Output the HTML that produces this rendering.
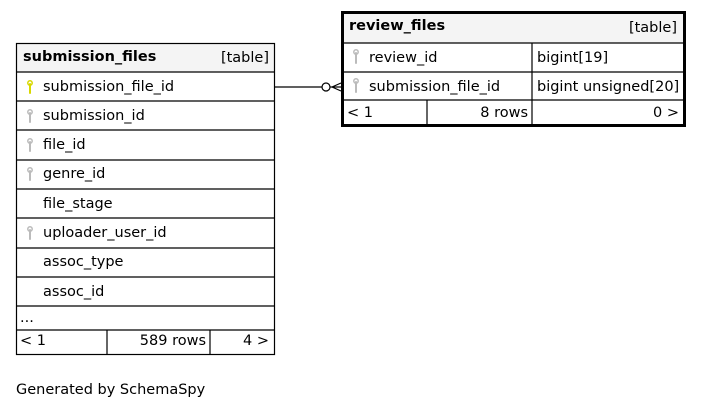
<!DOCTYPE html>
<html><head><style>body{margin:0;background:#fff}svg{display:block}text{font-family:"DejaVu Sans","Liberation Sans",sans-serif;font-size:14.5px;fill:#000}</style></head><body>
<svg width="703" height="409" viewBox="0 0 703 409">
<rect width="703" height="409" fill="#fff"/>
<rect x="16" y="43" width="259" height="29" fill="#f4f4f4"/>
<g stroke="#000" stroke-width="1.2" fill="none">
<rect x="16.5" y="43.5" width="258" height="311"/>
<line x1="16" y1="72" x2="275" y2="72"/><line x1="16" y1="101" x2="275" y2="101"/>
<line x1="16" y1="130" x2="275" y2="130"/><line x1="16" y1="160" x2="275" y2="160"/>
<line x1="16" y1="189" x2="275" y2="189"/><line x1="16" y1="218" x2="275" y2="218"/>
<line x1="16" y1="248" x2="275" y2="248"/><line x1="16" y1="277" x2="275" y2="277"/>
<line x1="16" y1="306" x2="275" y2="306"/><line x1="16" y1="330" x2="275" y2="330"/>
<line x1="107" y1="330" x2="107" y2="354"/><line x1="210" y1="330" x2="210" y2="354"/>
</g>
<text x="23" y="61" font-weight="bold">submission_files</text>
<text x="269" y="62" text-anchor="end">[table]</text>
<text x="43" y="91">submission_file_id</text>
<text x="43" y="120">submission_id</text>
<text x="43" y="149">file_id</text>
<text x="43" y="178">genre_id</text>
<text x="43" y="208">file_stage</text>
<text x="43" y="237">uploader_user_id</text>
<text x="43" y="266">assoc_type</text>
<text x="43" y="296">assoc_id</text>
<text x="20" y="322">...</text>
<text x="20" y="345">&lt; 1</text>
<text x="206" y="345" text-anchor="end">589 rows</text>
<text x="269" y="345" text-anchor="end">4 &gt;</text>
<g stroke-width="2" stroke-linecap="round">
<g stroke="#d8d800"><line x1="30" y1="84" x2="30" y2="93"/></g>
<g stroke="#bbb"><line x1="30" y1="113" x2="30" y2="122"/><line x1="30" y1="142" x2="30" y2="151"/><line x1="30" y1="171" x2="30" y2="180"/><line x1="30" y1="230" x2="30" y2="239"/>
<line x1="356" y1="53" x2="356" y2="63"/><line x1="356" y1="82" x2="356" y2="92"/></g>
</g>
<g fill="none" stroke-width="1.5"><circle cx="30" cy="83" r="2.2" stroke="#d8d800"/>
<g stroke="#bbb"><circle cx="30" cy="112" r="2.2"/><circle cx="30" cy="141" r="2.2"/><circle cx="30" cy="170" r="2.2"/><circle cx="30" cy="229" r="2.2"/><circle cx="356" cy="52" r="2.2"/><circle cx="356" cy="81" r="2.2"/></g></g>
<g stroke="#000" stroke-width="1.2" fill="none">
<line x1="275" y1="87" x2="322" y2="87"/>
<circle cx="326" cy="87" r="4" fill="#fff"/>
<line x1="330" y1="87" x2="341" y2="87"/>
<line x1="332" y1="87" x2="341" y2="83"/><line x1="332" y1="87" x2="341" y2="91"/>
</g>
<rect x="342" y="13" width="342" height="30" fill="#f4f4f4"/>
<g stroke="#000" stroke-width="1.2" fill="none">
<line x1="342" y1="43" x2="684" y2="43"/><line x1="342" y1="72" x2="684" y2="72"/>
<line x1="342" y1="100" x2="684" y2="100"/>
<line x1="532" y1="43" x2="532" y2="125"/><line x1="427" y1="100" x2="427" y2="125"/>
</g>
<rect x="342.5" y="12.5" width="342" height="113" fill="none" stroke="#000" stroke-width="3"/>
<text x="349" y="30" font-weight="bold">review_files</text>
<text x="677" y="32" text-anchor="end">[table]</text>
<text x="369" y="62">review_id</text>
<text x="537" y="62">bigint[19]</text>
<text x="369" y="91">submission_file_id</text>
<text x="537" y="91">bigint unsigned[20]</text>
<text x="347" y="117">&lt; 1</text>
<text x="528" y="117" text-anchor="end">8 rows</text>
<text x="679" y="117" text-anchor="end">0 &gt;</text>
<text x="16" y="394">Generated by SchemaSpy</text>
</svg>
</body></html>
